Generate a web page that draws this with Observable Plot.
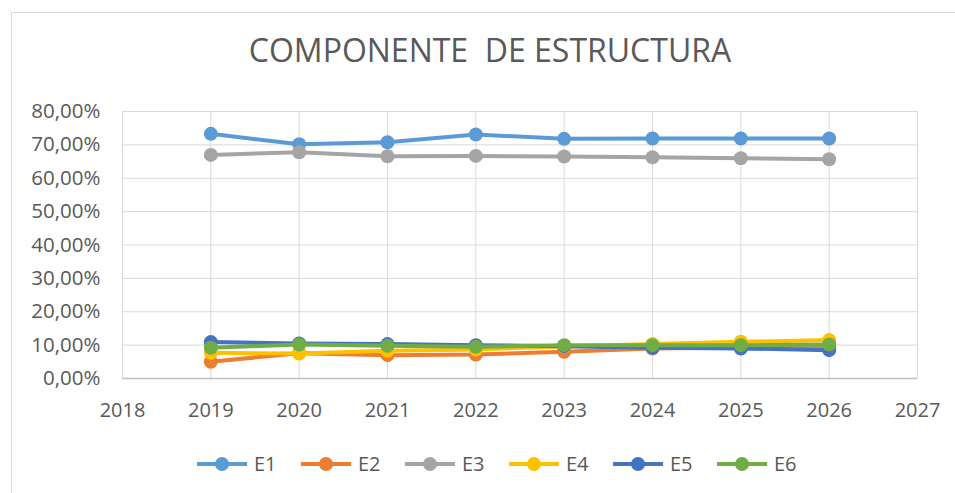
<!DOCTYPE html>
<html><head><meta charset="utf-8">
<script src="https://cdn.jsdelivr.net/npm/d3@7"></script>
<script src="https://cdn.jsdelivr.net/npm/@observablehq/plot@0.6"></script>
<style>
body{margin:0;background:#fff;font-family:"Open Sans",sans-serif;}
#wrap{position:relative;width:955px;height:493px;overflow:hidden;background:#fff;}
#frame{position:absolute;left:11px;top:12px;width:970px;height:520px;border:1px solid #d9d9d9;box-sizing:border-box;}
#title{position:absolute;left:0;width:980px;top:34px;text-align:center;font-size:32px;line-height:1;color:#595959;white-space:pre;}
#chart{position:absolute;left:0;top:0;}
#legend{position:absolute;top:454px;left:197px;display:flex;color:#595959;font-size:20px;line-height:20px;}
.item{display:flex;align-items:center;width:104px;}
.item span{margin-left:7px;}
</style></head>
<body>
<div id="wrap">
  <div id="frame"></div>
  <div id="title">COMPONENTE  DE ESTRUCTURA</div>
  <div id="chart"></div>
  <div id="legend"></div>
</div>
<script>
const years = [2019, 2020, 2021, 2022, 2023, 2024, 2025, 2026];
const seriesNames = ["E1", "E2", "E3", "E4", "E5", "E6"];
const E1 = [73.3, 70.2, 70.8, 73.1, 71.8, 71.9, 71.9, 71.9];
const E2 = [5.0, 7.6, 7.0, 7.2, 8.0, 9.0, 9.3, 9.5];
const E3 = [67.0, 67.8, 66.6, 66.7, 66.5, 66.3, 66.0, 65.7];
const E4 = [7.7, 7.5, 8.3, 8.7, 9.6, 10.3, 11.0, 11.5];
const E5 = [10.9, 10.5, 10.3, 10.0, 9.7, 9.2, 9.0, 8.5];
const E6 = [9.2, 10.2, 9.8, 9.5, 10.0, 10.0, 10.0, 10.2];
const colors = ["#5B9BD5", "#ED7D31", "#A5A5A5", "#FFC000", "#4472C4", "#70AD47"];
const xTicks = [2018, 2019, 2020, 2021, 2022, 2023, 2024, 2025, 2026, 2027];
const yTicks = [0, 10, 20, 30, 40, 50, 60, 70, 80];

const seriesValues = [E1, E2, E3, E4, E5, E6];
const fmtPct = d => d.toFixed(2).replace(".", ",") + "%";

const seriesMarks = seriesNames.flatMap((name, i) => {
  const data = years.map((yr, j) => ({year: yr, value: seriesValues[i][j]}));
  return [
    Plot.line(data, {x: "year", y: "value", stroke: colors[i], strokeWidth: 4}),
    Plot.dot(data, {x: "year", y: "value", r: 7, fill: colors[i], stroke: "none"})
  ];
});

const chart = Plot.plot({
  width: 955,
  height: 430,
  marginLeft: 122,
  marginRight: 38,
  marginTop: 111,
  marginBottom: 52,
  style: {fontFamily: "'Open Sans', sans-serif", fontSize: "20px", color: "#595959", background: "transparent", overflow: "visible"},
  x: {domain: [2018, 2027]},
  y: {domain: [0, 80]},
  marks: [
    Plot.gridX(xTicks, {stroke: "#d9d9d9", strokeOpacity: 1, strokeWidth: 1}),
    Plot.gridY(yTicks, {stroke: "#d9d9d9", strokeOpacity: 1, strokeWidth: 1}),
    Plot.ruleY([0], {stroke: "#bfbfbf", strokeWidth: 1.5}),
    Plot.axisX(xTicks, {tickSize: 0, tickPadding: 24, tickFormat: d => String(d), label: null, fill: "#595959", fontSize: 20}),
    Plot.axisY(yTicks, {tickSize: 0, tickPadding: 22, tickFormat: fmtPct, label: null, fill: "#595959", fontSize: 20.5}),
    ...seriesMarks
  ]
});
document.getElementById("chart").appendChild(chart);

const legend = document.getElementById("legend");
seriesNames.forEach((name, i) => {
  const item = document.createElement("div");
  item.className = "item";
  item.innerHTML = `<svg width="50" height="20"><line x1="0" x2="50" y1="10" y2="10" stroke="${colors[i]}" stroke-width="4"/><circle cx="25" cy="10" r="7" fill="${colors[i]}"/></svg><span>${name}</span>`;
  legend.appendChild(item);
});
</script>
</body></html>
